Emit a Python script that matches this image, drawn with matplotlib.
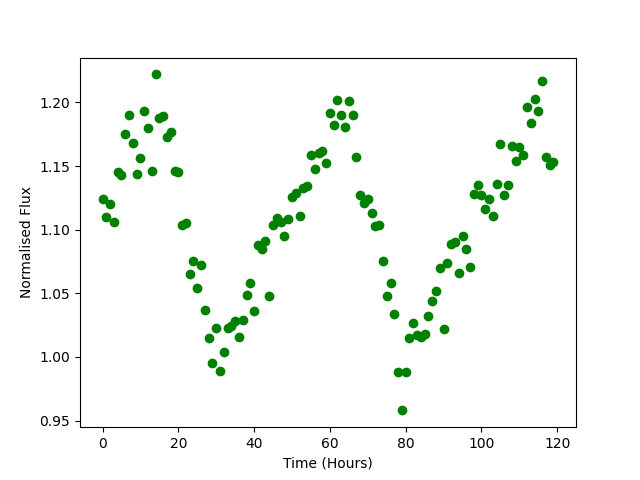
import matplotlib
matplotlib.use("Agg")
import matplotlib.pyplot as plt
import numpy as np

# --- Data ---
time_hours = np.arange(120)
flux = [
    1.124, 1.110, 1.120, 1.106, 1.145, 1.143, 1.175, 1.190, 1.168, 1.144,
    1.156, 1.193, 1.180, 1.146, 1.222, 1.188, 1.189, 1.173, 1.177, 1.146,
    1.145, 1.104, 1.105, 1.065, 1.075, 1.054, 1.072, 1.037, 1.015, 0.995,
    1.023, 0.989, 1.004, 1.023, 1.024, 1.028, 1.016, 1.029, 1.049, 1.058,
    1.036, 1.088, 1.085, 1.091, 1.048, 1.104, 1.109, 1.106, 1.095, 1.108,
    1.126, 1.129, 1.111, 1.133, 1.134, 1.159, 1.148, 1.160, 1.162, 1.152,
    1.192, 1.182, 1.202, 1.190, 1.181, 1.201, 1.190, 1.157, 1.127, 1.121,
    1.124, 1.113, 1.103, 1.104, 1.075, 1.048, 1.058, 1.034, 0.988, 0.958,
    0.988, 1.015, 1.027, 1.017, 1.016, 1.018, 1.032, 1.044, 1.052, 1.070,
    1.022, 1.074, 1.089, 1.090, 1.066, 1.095, 1.085, 1.071, 1.128, 1.135,
    1.127, 1.116, 1.124, 1.111, 1.136, 1.167, 1.127, 1.135, 1.166, 1.154,
    1.165, 1.159, 1.196, 1.184, 1.203, 1.193, 1.217, 1.157, 1.151, 1.153,
]

fig, ax = plt.subplots(figsize=(6.4, 4.8), dpi=100)
ax.plot(time_hours, flux, "o", color="green")
ax.set_xlabel("Time (Hours)")
ax.set_ylabel("Normalised Flux")

fig.savefig("out.png")
